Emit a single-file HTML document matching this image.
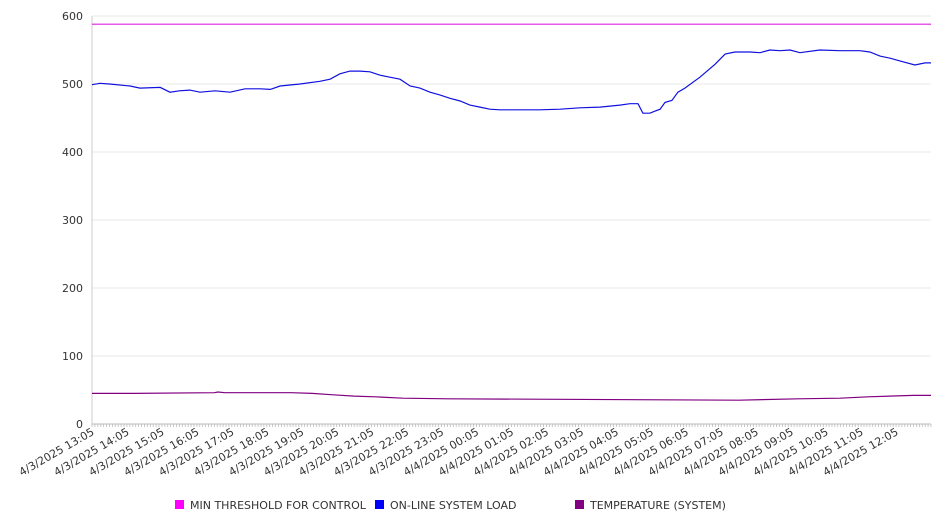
<!DOCTYPE html>
<html><head><meta charset="utf-8">
<style>
body{margin:0;background:#fff;font-family:"DejaVu Sans","Liberation Sans",sans-serif;}
svg text{font-family:"DejaVu Sans","Liberation Sans",sans-serif;fill:#333;}
</style></head>
<body>
<svg id="chart" width="946" height="526"></svg>
<script>
const yTicks=[0,100,200,300,400,500,600];
const xLabels=["4/3/2025 13:05","4/3/2025 14:05","4/3/2025 15:05","4/3/2025 16:05","4/3/2025 17:05","4/3/2025 18:05","4/3/2025 19:05","4/3/2025 20:05","4/3/2025 21:05","4/3/2025 22:05","4/3/2025 23:05","4/4/2025 00:05","4/4/2025 01:05","4/4/2025 02:05","4/4/2025 03:05","4/4/2025 04:05","4/4/2025 05:05","4/4/2025 06:05","4/4/2025 07:05","4/4/2025 08:05","4/4/2025 09:05","4/4/2025 10:05","4/4/2025 11:05","4/4/2025 12:05"];
const threshHours=[0,24];
const threshValues=[588,588];
const loadHours=[0,0.23,0.5,1.09,1.37,1.95,2.23,2.5,2.80,3.09,3.52,3.95,4.38,4.81,5.1,5.38,5.95,6.52,6.81,7.09,7.38,7.67,7.95,8.24,8.52,8.81,9.10,9.38,9.67,9.95,10.24,10.53,10.81,11.10,11.38,11.67,11.96,12.24,12.81,13.39,13.96,14.53,15.10,15.39,15.62,15.76,15.96,16.10,16.25,16.39,16.59,16.76,16.96,17.39,17.82,18.11,18.39,18.82,19.11,19.39,19.68,19.97,20.25,20.82,21.40,21.97,22.25,22.54,22.83,23.11,23.54,23.83,24];
const loadValues=[499,501,500,497,494,495,488,490,491,488,490,488,493,493,492,497,500,504,507,515,519,519,518,513,510,507,497,494,488,484,479,475,469,466,463,462,462,462,462,463,465,466,469,471,471,457,457,460,463,473,476,488,494,510,529,544,547,547,546,550,549,550,546,550,549,549,547,541,538,534,528,531,531];
const tempHours=[0,1.2,3.5,3.6,3.8,5.7,6.3,6.9,7.5,8.1,8.9,10.2,18.5,20.2,21.4,22.2,23.5,24];
const tempValues=[45,45,46,47,46,46,45,43,41,40,38,37,35,37,38,40,42,42];

const svg=document.getElementById('chart');
const NS='http://www.w3.org/2000/svg';
const L=92,R=931,T=16,B=424;
const xs=h=>L+(R-L)*h/24;
const ys=v=>B-(B-T)*v/600;
function mk(tag,attrs){const e=document.createElementNS(NS,tag);for(const k in attrs)e.setAttribute(k,attrs[k]);svg.appendChild(e);return e;}

yTicks.forEach(v=>{
  const g=mk('line',{x1:L,x2:R,y1:ys(v),y2:ys(v),stroke:v===0?'#bbb':'#e8e8e8','stroke-width':1});
  
  
  const t=mk('text',{x:83,y:ys(v)+4,'text-anchor':'end','font-size':11});
  t.textContent=v;
  
  
});
const ax=mk('line',{x1:L,x2:L,y1:T,y2:B,stroke:'#ccc'});


for(let i=0;i<=288;i++){
  const x=xs(i/12);
  const tk=mk('line',{x1:x,x2:x,y1:B,y2:B+3,stroke:'#bbb','stroke-width':0.8});
  
  
}
xLabels.forEach((s,i)=>{
  const x=xs(i)+3,y=B+10;
  const t=mk('text',{x:x,y:y,'text-anchor':'end','font-size':11,transform:`rotate(-30 ${x} ${y})`});
  t.textContent=s;
  
  
});
function series(hs,vs,color,name){
  const n=Math.min(hs.length,vs.length);
  let d='';
  for(let i=0;i<n;i++)d+=(i?'L':'M')+xs(hs[i]).toFixed(1)+','+ys(vs[i]).toFixed(1);
  const p=mk('path',{d:d,fill:'none',stroke:color,'stroke-width':1.2});
  
  
}
series(threshHours,threshValues,'#e020e0','min-threshold-line');
series(loadHours,loadValues,'#1010e0','online-system-load-line');
series(tempHours,tempValues,'#800080','temperature-line');

const legend=[["MIN THRESHOLD FOR CONTROL","#ff00ff",175],["ON-LINE SYSTEM LOAD","#0000ff",375],["TEMPERATURE (SYSTEM)","#800080",575]];
legend.forEach(([s,c,x])=>{
  const r=mk('rect',{x:x,y:500,width:9,height:9,fill:c});
  
  
  const t=mk('text',{x:x+15,y:509,'font-size':11});
  t.textContent=s;
  
  
});
</script>
</body></html>
